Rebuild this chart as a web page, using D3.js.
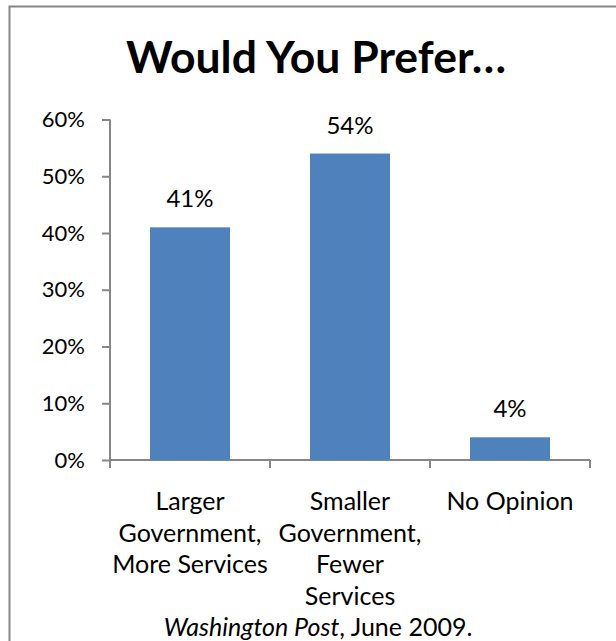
<!DOCTYPE html>
<html><head><meta charset="utf-8">
<script src="https://cdn.jsdelivr.net/npm/d3@7"></script>
<style>
body{margin:0;background:#fff;}
svg{display:block;}
text{font-family:Lato,"Open Sans",sans-serif;fill:#000;}
</style></head>
<body>
<script>
const categories = [["Larger","Government,","More Services"],["Smaller","Government,","Fewer","Services"],["No Opinion"]];
const categoryKeys = ["Larger Government, More Services","Smaller Government, Fewer Services","No Opinion"];
const values = [41, 54, 4];
const yTicks = [0,10,20,30,40,50,60];
const title = "Would You Prefer…";

const W = 616, H = 641;
const svg = d3.select("body").append("svg").attr("width", W).attr("height", H);

// outer border
svg.append("rect").attr("x", 9.5).attr("y", 6.5).attr("width", 640).attr("height", 700)
  .attr("fill", "none").attr("stroke", "#868686").attr("stroke-width", 2);

svg.append("text").attr("x", 316).attr("y", 73).attr("text-anchor","middle")
  .attr("font-size", 44.5).attr("font-weight", "bold").text(title);

const x = d3.scaleBand().domain(categoryKeys).range([110, 590]).paddingInner(0.5).paddingOuter(0.25);
const y = d3.scaleLinear().domain([0, 60]).range([460, 119.5]);

const yAxis = d3.axisLeft(y).tickValues(yTicks).tickFormat(d => d + "%").tickSize(8).tickPadding(17);
const gy = svg.append("g").attr("transform", "translate(110,0)").call(yAxis);
gy.selectAll("path,line").attr("stroke", "#868686").attr("stroke-width", 2);
gy.select(".domain").attr("d", "M0,119.5V460");
gy.selectAll("text").attr("font-size", 22).attr("font-family", "Lato,'Open Sans',sans-serif").attr("fill","#000");

// x axis
const xb = d3.scaleLinear().domain([0,3]).range([110,590]);
const gx = svg.append("g");
gx.append("line").attr("x1", 110).attr("x2", 590).attr("y1", 460).attr("y2", 460).attr("stroke","#868686").attr("stroke-width",2);
gx.selectAll("line.t").data([0,1,2,3]).join("line").attr("class","t")
  .attr("x1", d=>xb(d)).attr("x2", d=>xb(d)).attr("y1",460).attr("y2",468).attr("stroke","#868686").attr("stroke-width",2);

svg.selectAll("rect.bar").data(values).join("rect").attr("class","bar")
  .attr("x", (d,i)=>x(categoryKeys[i])).attr("width", x.bandwidth())
  .attr("y", d=>y(d)).attr("height", d=>y(0)-y(d)).attr("fill", "#4F81BD");

svg.selectAll("text.val").data(values).join("text").attr("class","val")
  .attr("x", (d,i)=>x(categoryKeys[i]) + x.bandwidth()/2).attr("y", d=>y(d)-20)
  .attr("text-anchor","middle").attr("font-size", 24).text(d=>d+"%");

categories.forEach((lines,i)=>{
  const cx = x(categoryKeys[i]) + x.bandwidth()/2;
  const t = svg.append("text").attr("x", cx).attr("y", 510)
    .attr("text-anchor","middle").attr("font-size", 25);
  lines.forEach((l,j)=>t.append("tspan").attr("x", cx).attr("dy", j?31.7:0).text(l));
});

const src = svg.append("text").attr("x", 318).attr("y", 636).attr("text-anchor","middle").attr("font-size",25);
src.append("tspan").attr("font-style","italic").text("Washington Post");
src.append("tspan").text(", June 2009.");
</script>
</body></html>
